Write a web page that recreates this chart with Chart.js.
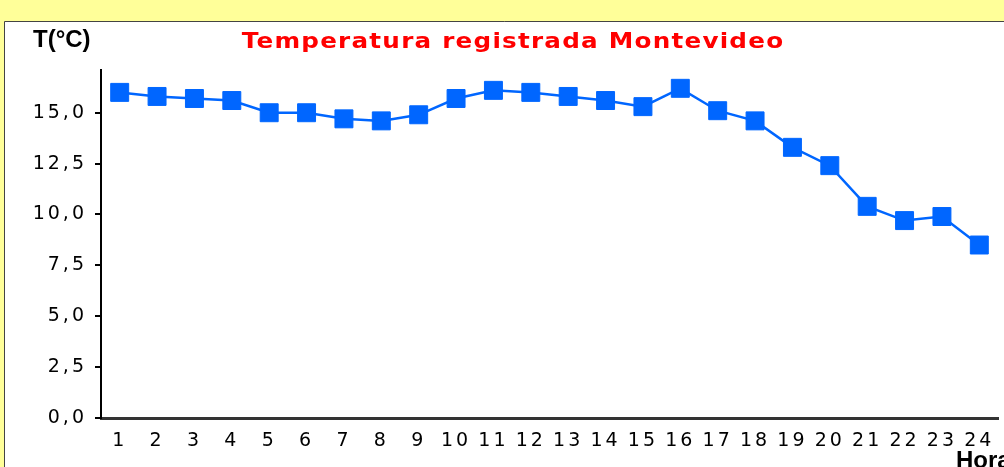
<!DOCTYPE html>
<html>
<head>
<meta charset="utf-8">
<script src="https://cdn.jsdelivr.net/npm/chart.js@4/dist/chart.umd.min.js"></script>
<style>
  html, body { margin: 0; padding: 0; background: #ffff99; }
  #wrap { width: 1004px; height: 467px; }
</style>
</head>
<body>
<div id="wrap"><canvas id="tempChart" width="1004" height="467"></canvas></div>
<script>
// ── Data ──
const hours = ['1','2','3','4','5','6','7','8','9','10','11','12','13','14','15','16','17','18','19','20','21','22','23','24'];
const temps = [16.0, 15.8, 15.7, 15.6, 15.0, 15.0, 14.7, 14.6, 14.9, 15.7, 16.1, 16.0,
               15.8, 15.6, 15.3, 16.2, 15.1, 14.6, 13.3, 12.4, 10.4, 9.7, 9.9, 8.5];
const yTicks = [0, 2.5, 5, 7.5, 10, 12.5, 15];
const yMax = 17.1;

const chartTitle = 'Temperatura registrada Montevideo';
const yLabel = 'T(°C)';
const xLabel = 'Hora';

// ── Background panel + titles ──
const panelPlugin = {
    id: 'panel',
    beforeDraw(chart) {
        const ctx = chart.ctx;
        ctx.save();
        ctx.fillStyle = '#ffff99';
        ctx.fillRect(0, 0, chart.width, chart.height);
        ctx.fillStyle = '#ffffff';
        ctx.fillRect(5, 22, chart.width, chart.height);
        ctx.strokeStyle = '#444444';
        ctx.lineWidth = 1;
        ctx.beginPath();
        ctx.moveTo(4.5, chart.height + 2);
        ctx.lineTo(4.5, 21.5);
        ctx.lineTo(chart.width + 2, 21.5);
        ctx.stroke();
        ctx.restore();
        // tick labels in the original are widely spaced
        ctx.letterSpacing = '3px';
    },
    afterDraw(chart) {
        const ctx = chart.ctx;
        ctx.save();
        // title is drawn slightly widened, like the original
        ctx.save();
        ctx.translate(513, 48);
        ctx.scale(1.12, 1);
        ctx.letterSpacing = '1.1px';
        ctx.fillStyle = '#ff0000';
        ctx.font = 'bold 22px "DejaVu Sans"';
        ctx.textAlign = 'center';
        ctx.textBaseline = 'alphabetic';
        ctx.fillText(chartTitle, 0, 0);
        ctx.restore();

        ctx.letterSpacing = '0px';
        ctx.fillStyle = '#000000';
        ctx.font = 'bold 24px "Liberation Sans"';
        ctx.textAlign = 'left';
        ctx.textBaseline = 'alphabetic';
        ctx.fillText(yLabel, 33, 47);
        ctx.fillText(xLabel, 956, 468);
        ctx.restore();
    }
};

const fmt = v => v.toFixed(1).replace('.', ',');

new Chart(document.getElementById('tempChart').getContext('2d'), {
    type: 'line',
    data: {
        labels: hours,
        datasets: [{
            data: temps,
            borderColor: '#0066ff',
            borderWidth: 2.5,
            tension: 0,
            pointStyle: 'rect',
            pointRadius: 12.7,
            pointBackgroundColor: '#0066ff',
            pointBorderColor: '#0066ff',
            pointBorderWidth: 1,
            clip: false
        }]
    },
    options: {
        responsive: false,
        animation: false,
        devicePixelRatio: 1,
        layout: { autoPadding: false, padding: { top: 70, right: 6, left: 0, bottom: 0 } },
        plugins: {
            legend: { display: false },
            tooltip: { enabled: false },
            title: { display: false }
        },
        scales: {
            x: {
                offset: true,
                grid: { display: false, drawTicks: false },
                border: { display: true, color: '#333333', width: 3 },
                ticks: {
                    color: '#000000',
                    padding: 12,
                    maxRotation: 0,
                    autoSkip: false,
                    font: { family: 'DejaVu Sans', size: 19 }
                },
                afterFit: s => { s.height = 49; s.paddingLeft = 0; s.paddingRight = 0; }
            },
            y: {
                min: 0,
                max: yMax,
                grid: {
                    drawOnChartArea: false,
                    drawTicks: true,
                    tickLength: 6,
                    color: '#000000',
                    lineWidth: 2
                },
                border: { display: true, color: '#000000', width: 2 },
                ticks: {
                    color: '#000000',
                    padding: 8,
                    font: { family: 'DejaVu Sans', size: 19 },
                    callback: v => fmt(v)
                },
                afterBuildTicks: s => { s.ticks = yTicks.map(v => ({ value: v })); },
                afterFit: s => { s.width = 101; s.paddingTop = 0; s.paddingBottom = 0; }
            }
        }
    },
    plugins: [panelPlugin]
});
</script>
</body>
</html>
